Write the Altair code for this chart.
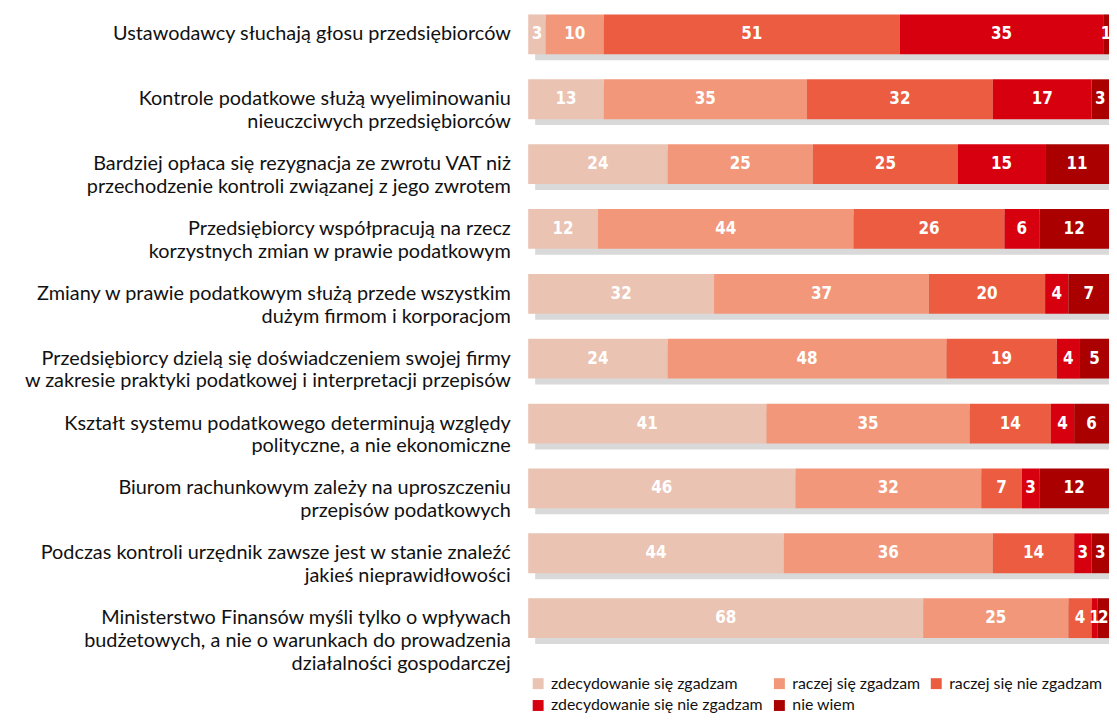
import altair as alt
import pandas as pd

questions = [
    "Ustawodawcy słuchają głosu przedsiębiorców",
    "Kontrole podatkowe służą wyeliminowaniu|nieuczciwych przedsiębiorców",
    "Bardziej opłaca się rezygnacja ze zwrotu VAT niż|przechodzenie  kontroli związanej z jego zwrotem",
    "Przedsiębiorcy współpracują na rzecz|korzystnych zmian w prawie podatkowym",
    "Zmiany w prawie podatkowym służą przede wszystkim|dużym firmom i korporacjom",
    "Przedsiębiorcy dzielą się doświadczeniem swojej firmy|w zakresie praktyki podatkowej i interpretacji przepisów",
    "Kształt systemu podatkowego determinują względy|polityczne, a nie ekonomiczne",
    "Biurom rachunkowym zależy na uproszczeniu|przepisów podatkowych",
    "Podczas kontroli urzędnik zawsze jest w stanie znaleźć|jakieś nieprawidłowości",
    "Ministerstwo Finansów myśli tylko o wpływach|budżetowych, a nie o warunkach do prowadzenia|działalności gospodarczej",
]

categories = [
    "zdecydowanie się zgadzam",
    "raczej się zgadzam",
    "raczej się nie zgadzam",
    "zdecydowanie się nie zgadzam",
    "nie wiem",
]
colors = ["#EAC3B3", "#F2977A", "#EB5C40", "#D7000F", "#AA0000"]

zdec_zg = [3, 13, 24, 12, 32, 24, 41, 46, 44, 68]
racz_zg = [10, 35, 25, 44, 37, 48, 35, 32, 36, 25]
racz_nie = [51, 32, 25, 26, 20, 19, 14, 7, 14, 4]
zdec_nie = [35, 17, 15, 6, 4, 4, 4, 3, 3, 1]
nie_wiem = [1, 3, 11, 12, 7, 5, 6, 12, 3, 2]

series = [zdec_zg, racz_zg, racz_nie, zdec_nie, nie_wiem]

rows = []
for ci, (cat, vals) in enumerate(zip(categories, series)):
    for q, v in zip(questions, vals):
        rows.append({"question": q, "category": cat, "order": ci, "value": v})
df = pd.DataFrame(rows)

y_enc = alt.Y(
    "question:N",
    sort=questions,
    scale=alt.Scale(paddingInner=0.386, paddingOuter=0.06),
    axis=alt.Axis(
        title=None,
        domain=False,
        ticks=False,
        labelExpr="split(datum.label, '|')",
        labelFont="Lato",
        labelFontSize=20,
        labelColor="#111111",
        labelPadding=18,
        labelLimit=700,
        labelLineHeight=23,
        labelBaseline="middle",
    ),
)

base = alt.Chart(df).transform_stack(
    stack="value",
    as_=["x0", "x1"],
    groupby=["question"],
    sort=[alt.SortField("order", order="ascending")],
).transform_calculate(mid="(datum.x0 + datum.x1) / 2")

x_scale = alt.Scale(domain=[0, 100], nice=False, zero=True)

shadow = alt.Chart(df).transform_aggregate(
    total="sum(value)", groupby=["question"]
).mark_bar(color="#D9D9D9", xOffset=7, yOffset=6, x2Offset=7).encode(
    y=y_enc,
    x=alt.X("total:Q", scale=x_scale, axis=None),
    x2=alt.datum(0),
)

bars = base.mark_bar(strokeWidth=0).encode(
    y=y_enc,
    x=alt.X("x0:Q", scale=x_scale, axis=None),
    x2="x1:Q",
    color=alt.Color(
        "category:N",
        scale=alt.Scale(domain=categories, range=colors),
        legend=alt.Legend(
            title=None,
            orient="none",
            legendX=2,
            legendY=670,
            columns=3,
            direction="horizontal",
            symbolType="square",
            symbolSize=121,
            symbolStrokeWidth=0,
            labelFont="Lato",
            labelFontSize=16,
            labelColor="#111111",
            labelLimit=400,
            labelOffset=5,
            columnPadding=8,
            rowPadding=6,
        ),
    ),
)

labels = base.mark_text(
    color="white",
    font="Liberation Sans Narrow, DejaVu Sans Condensed, sans-serif",
    fontWeight="bold",
    fontSize=17,
    baseline="middle",
    align="center",
).encode(
    y=y_enc,
    x=alt.X("mid:Q", scale=x_scale, axis=None),
    text="value:Q",
)

chart = alt.layer(shadow, bars, labels).properties(
    width=585,
    height=636,
    padding={"left": 524, "top": 0, "right": 0, "bottom": 70},
    autosize="none",
).configure_view(stroke=None)

chart.save("out.html", embed_options={"renderer": "svg", "actions": False})
